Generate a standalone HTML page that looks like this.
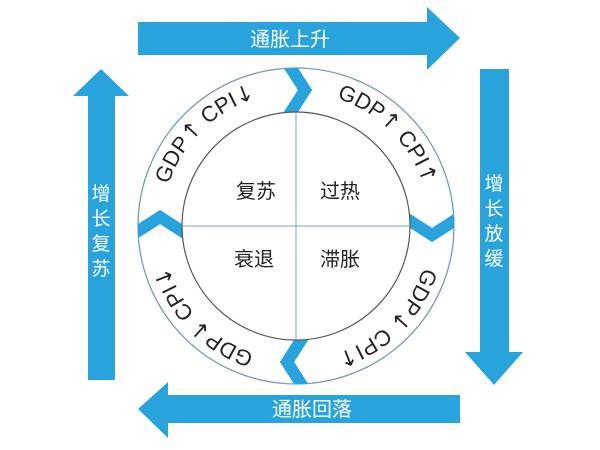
<!DOCTYPE html>
<html><head><meta charset="utf-8"><style>
html,body{margin:0;padding:0;background:#fff;}
svg{display:block;}
text{font-family:"Liberation Sans","Noto Sans CJK SC",sans-serif;}
.ar{font-family:"DejaVu Sans",sans-serif;font-size:22px;}
</style></head><body>
<svg width="600" height="450" viewBox="0 0 600 450" xmlns="http://www.w3.org/2000/svg">
<defs>
<clipPath id="ring"><circle cx="296" cy="226" r="158"/></clipPath>
<path id="cp" d="M296,92 A134,134 0 1,1 296,360 A134,134 0 1,1 296,92"/>
</defs>
<polygon points="138,22 427,22 427,7 460,38 427,70 427,55 138,55" fill="#29a3dc"/>
<text x="290" y="46" font-size="20" fill="#fff" text-anchor="middle">通胀上升</text>
<polygon points="480,69 509,69 509,352 523,352 494,385 465,352 480,352" fill="#29a3dc"/>
<g font-size="19" fill="#fff" text-anchor="middle">
<text x="494" y="190">增</text><text x="494" y="215">长</text><text x="494" y="240">放</text><text x="494" y="265">缓</text>
</g>
<polygon points="460,395 460,423 168,423 168,438 138,409 168,382 168,395" fill="#29a3dc"/>
<text x="312" y="416" font-size="20" fill="#fff" text-anchor="middle">通胀回落</text>
<polygon points="88,380 115,380 115,96 129,96 101,69 73,96 88,96" fill="#29a3dc"/>
<g font-size="19" fill="#fff" text-anchor="middle">
<text x="101" y="200">增</text><text x="101" y="225">长</text><text x="101" y="250">复</text><text x="101" y="275">苏</text>
</g>
<circle cx="296" cy="226" r="158" fill="#fff" stroke="#6f9db3" stroke-width="1.3"/>
<g clip-path="url(#ring)" fill="none" stroke="#29a3dc" stroke-width="12" stroke-linejoin="miter">
<g transform="translate(296,226)">
<polyline points="-9,-164 9,-136 -9,-108"/>
<polyline points="-9,-164 9,-136 -9,-108" transform="rotate(90)"/>
<polyline points="-9,-164 9,-136 -9,-108" transform="rotate(180)"/>
<polyline points="-9,-164 9,-136 -9,-108" transform="rotate(270)"/>
</g>
</g>
<circle cx="296" cy="226" r="114" fill="#fff" stroke="#555" stroke-width="1.2"/>
<line x1="296" y1="112" x2="296" y2="340" stroke="#7aa6b8" stroke-width="1"/>
<line x1="182" y1="226" x2="410" y2="226" stroke="#7aa6b8" stroke-width="1"/>
<g font-size="22" fill="#222">
<text text-anchor="middle"><textPath href="#cp" startOffset="105">GDP<tspan class="ar">↑</tspan> CPI<tspan class="ar">↑</tspan></textPath></text>
<text text-anchor="middle"><textPath href="#cp" startOffset="316">GDP<tspan class="ar">↓</tspan> CPI<tspan class="ar">↑</tspan></textPath></text>
<text text-anchor="middle"><textPath href="#cp" startOffset="527">GDP<tspan class="ar">↓</tspan> CPI<tspan class="ar">↓</tspan></textPath></text>
<text text-anchor="middle"><textPath href="#cp" startOffset="737">GDP<tspan class="ar">↑</tspan> CPI<tspan class="ar">↓</tspan></textPath></text>
</g>
<g font-size="20" fill="#222" text-anchor="middle">
<text x="256" y="198">复苏</text><text x="340" y="198">过热</text>
<text x="254" y="266">衰退</text><text x="340" y="266">滞胀</text>
</g>
</svg>
</body></html>
